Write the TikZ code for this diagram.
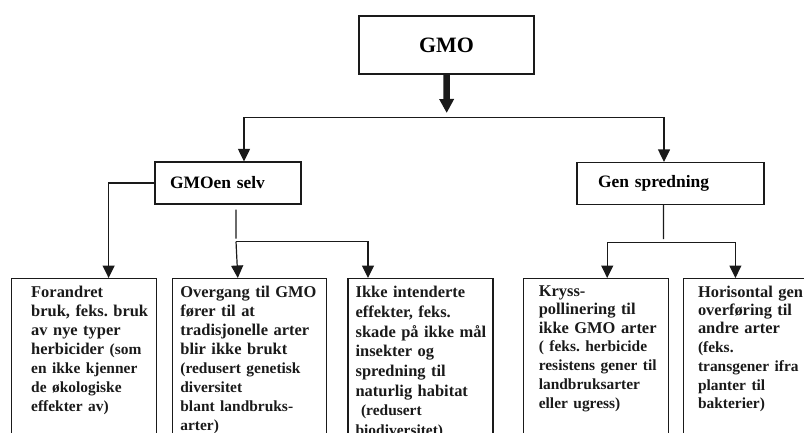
\documentclass[tikz,border=0pt]{standalone}
\usepackage{fontspec}
\setmainfont{Liberation Serif}
\usepackage{tikz}
\usetikzlibrary{
  arrows.meta,
  positioning,
  calc
}
\frenchspacing
\definecolor{gmoLine}{HTML}{1A1A1A}
\newcommand{\parenfont}{\fontsize{15.5}{19}\selectfont}
\tikzset{
  rootbox/.style={
    draw=gmoLine, line width=1.2bp, minimum width=175bp, minimum height=58bp,
    font=\fontsize{22}{24}\selectfont\bfseries
  },
  branchbox/.style={
    draw=gmoLine, line width=1.2bp, minimum height=42bp, inner ysep=0pt,
    align=left, font=\fontsize{17.5}{20}\selectfont\bfseries
  },
  leafbox/.style={draw=gmoLine, line width=1.2bp, minimum height=200bp, anchor=north west},
  leaftext/.style={
    text width=150bp, align=left, inner sep=0pt, text=gmoLine,
    font=\fontsize{16.5}{19.2}\selectfont\bfseries
  },
  conn/.style={gmoLine, line width=1.2bp},
  arr/.style={conn, -{Triangle[length=12.5bp, width=12bp]}},
  bigarr/.style={gmoLine, line width=6.5bp, -{Triangle[length=14bp, width=14bp]}}
}

\begin{document}
\begin{tikzpicture}[x=1bp, y=-1bp]
  \useasboundingbox (0,0) rectangle (804,432);
  \clip (0,0) rectangle (804,432);
  % top and branch boxes
  \node[rootbox] (gmo) at (446.5,45) {GMO};
  \node[branchbox, text width=116bp, inner xsep=15bp] (selv) at (228,183) {GMOen selv};
  \node[branchbox, text width=145bp, inner xsep=21bp] (gen) at (670.5,183.5) {Gen spredning};
  % leaf boxes
  \node[leafbox, minimum width=145bp] (b1) at (11,278) {};
  \node[leafbox, minimum width=154bp, right=15bp of b1.north east, anchor=north west] (b2) {};
  \node[leafbox, minimum width=145bp, right=20bp of b2.north east, anchor=north west] (b3) {};
  \node[leafbox, minimum width=145bp, right=29bp of b3.north east, anchor=north west] (b4) {};
  \node[leafbox, minimum width=145bp, right=14bp of b4.north east, anchor=north west] (b5) {};
  \node[leaftext, below right=7.6bp and 20bp of b1.north west] (t1) {Forandret\\ bruk, feks. bruk\\ av nye typer\\ herbicider {\parenfont(som}\\ {\parenfont en ikke kjenner\\ de økologiske\\ effekter av)}};
  \node[leaftext, below right=7.6bp and 8bp of b2.north west] (t2) {Overgang til GMO\\ fører til at\\ tradisjonelle arter\\ blir ikke brukt\\ {\parenfont(redusert genetisk\\ diversitet\\ blant landbruks-\\ arter)}};
  \node[leaftext, font=\fontsize{16.5}{20}\selectfont\bfseries, below right=7.6bp and 8bp of b3.north west] (t3) {Ikke intenderte\\ effekter, feks.\\ skade på ikke mål\\ insekter og\\ spredning til\\ naturlig habitat\\ {\parenfont\ (redusert\\ biodiversitet)}};
  \node[leaftext, font=\fontsize{16.5}{18.3}\selectfont\bfseries, below right=7.6bp and 16bp of b4.north west] (t4) {Kryss-\\ pollinering til\\ ikke GMO arter\\ {\parenfont( feks. herbicide\\ resistens gener til\\ landbruksarter\\ eller ugress)}};
  \node[leaftext, font=\fontsize{16.5}{18.3}\selectfont\bfseries, below right=7.6bp and 15bp of b5.north west] (t5) {Horisontal gen\\ overføring til\\ andre arter\\ {\parenfont(feks.\\ transgener ifra\\ planter til\\ bakterier)}};
  % connectors
  \coordinate (hub) at (446.7,117.5);
  \draw[bigarr] (gmo.south) -- ([yshift=4.5bp]hub);
  \draw[arr] (hub) -| ([xshift=16bp]selv.north);
  \draw[arr] (hub) -| ([xshift=-6.5bp]gen.north);
  \draw[arr] (selv.west) -| ([xshift=24.5bp]b1.north);
  \coordinate (fork) at (236,241.5);
  \draw[conn] ([xshift=8bp,yshift=-5bp]selv.south) -- ([yshift=3bp]fork);
  \draw[arr] (fork) -- ([xshift=-12bp]b2.north);
  \draw[arr] (fork) -| ([xshift=-52.5bp]b3.north);
  \coordinate (fork2) at (663.5,242.5);
  \draw[conn] ([xshift=-7bp]gen.south) -- ([yshift=3.5bp]fork2);
  \draw[arr] (fork2) -| ([xshift=11.5bp]b4.north);
  \draw[arr] (fork2) -| ([xshift=-20.5bp]b5.north);
\end{tikzpicture}
\end{document}
